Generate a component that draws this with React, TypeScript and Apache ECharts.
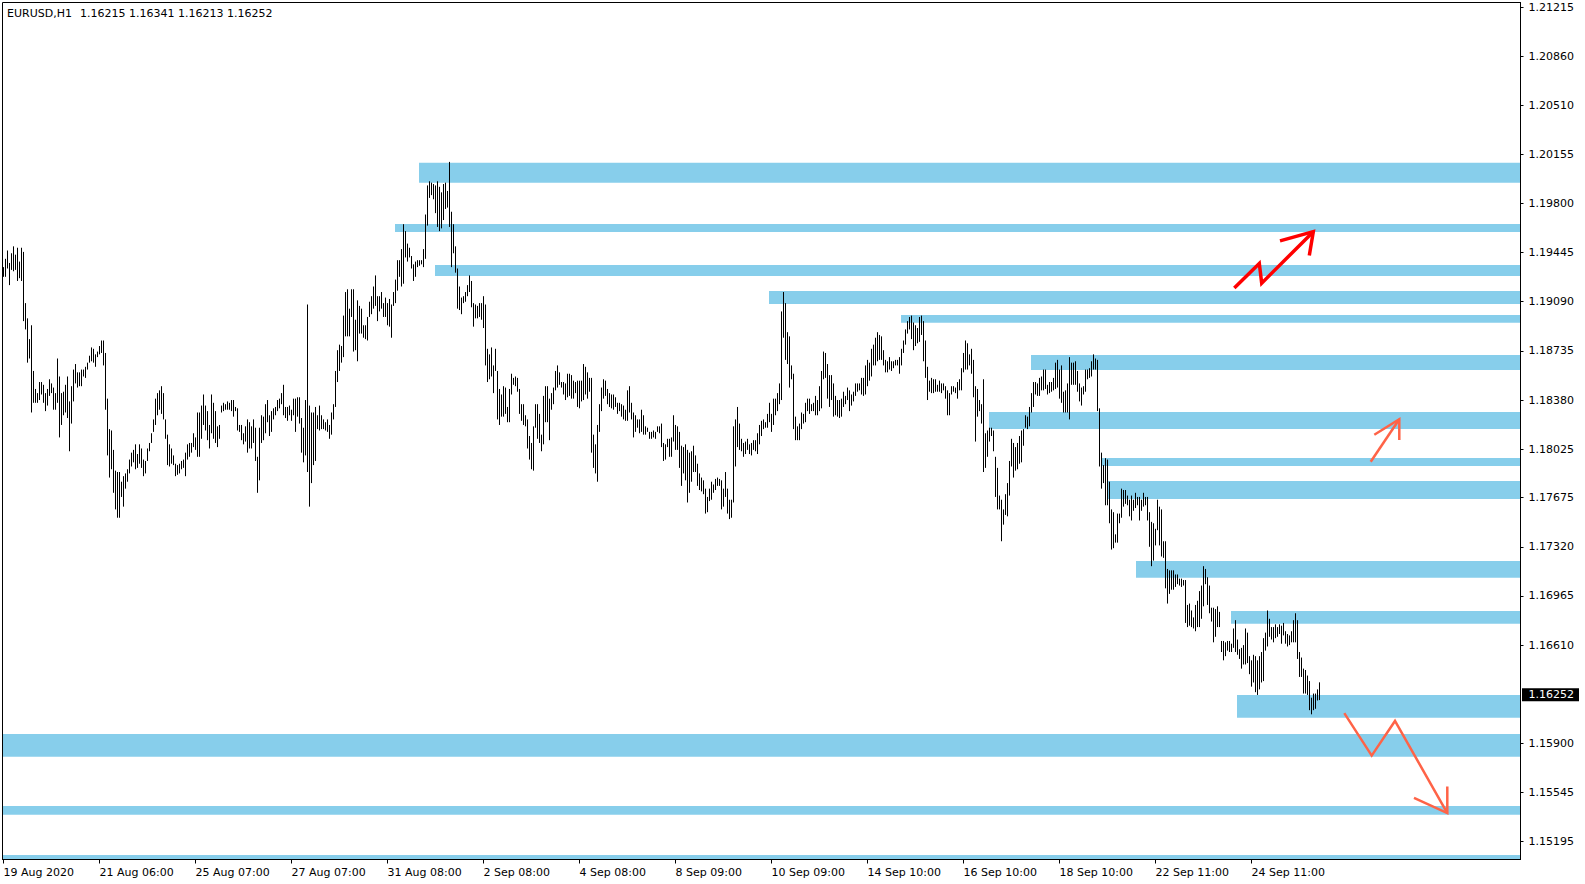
import React, { useEffect, useRef } from 'react';
import * as echarts from 'echarts';

// ---------- data ----------
const symbolName = 'EURUSD,H1';
const lastBarOHLC = [1.16215, 1.16341, 1.16213, 1.16252];

const yTickValues = [1.21215, 1.2086, 1.2051, 1.20155, 1.198, 1.19445, 1.1909, 1.18735, 1.1838, 1.18025, 1.17675, 1.1732, 1.16965, 1.1661, 1.159, 1.15545, 1.15195];
const xTickBars = [0, 48, 96, 144, 192, 240, 288, 336, 384, 432, 480, 528, 576, 624];
const xTickLabels = ['19 Aug 2020', '21 Aug 06:00', '25 Aug 07:00', '27 Aug 07:00', '31 Aug 08:00', '2 Sep 08:00', '4 Sep 08:00', '8 Sep 09:00', '10 Sep 09:00', '14 Sep 10:00', '16 Sep 10:00', '18 Sep 10:00', '22 Sep 11:00', '24 Sep 11:00'];

// hourly bar highs / lows (bar index = position in array)
const barHighs = [
  1.1934, 1.1940, 1.1946, 1.1937, 1.1944, 1.1949, 1.1943, 1.1948, 1.1938, 1.1948,
  1.1945, 1.1908, 1.1897, 1.1882, 1.1892, 1.1859, 1.1846, 1.1843, 1.1851, 1.1851,
  1.1849, 1.1843, 1.1846, 1.1853, 1.1850, 1.1847, 1.1843, 1.1868, 1.1855, 1.1843,
  1.1844, 1.1849, 1.1855, 1.1837, 1.1848, 1.1860, 1.1864, 1.1858, 1.1858, 1.1860,
  1.1860, 1.1862, 1.1865, 1.1870, 1.1876, 1.1875, 1.1871, 1.1873, 1.1877, 1.1881,
  1.1881, 1.1872, 1.1839, 1.1817, 1.1816, 1.1802, 1.1787, 1.1786, 1.1786, 1.1779,
  1.1783, 1.1785, 1.1788, 1.1795, 1.1800, 1.1802, 1.1806, 1.1799, 1.1806, 1.1803,
  1.1795, 1.1794, 1.1803, 1.1807, 1.1814, 1.1824, 1.1839, 1.1843, 1.1845, 1.1848,
  1.1843, 1.1824, 1.1813, 1.1806, 1.1803, 1.1798, 1.1792, 1.1791, 1.1792, 1.1794,
  1.1795, 1.1800, 1.1806, 1.1807, 1.1807, 1.1814, 1.1811, 1.1829, 1.1829, 1.1834,
  1.1842, 1.1834, 1.1830, 1.1820, 1.1842, 1.1836, 1.1830, 1.1819, 1.1820, 1.1834,
  1.1836, 1.1835, 1.1837, 1.1836, 1.1838, 1.1838, 1.1833, 1.1832, 1.1820, 1.1820,
  1.1814, 1.1819, 1.1824, 1.1822, 1.1819, 1.1824, 1.1818, 1.1797, 1.1818, 1.1827,
  1.1826, 1.1835, 1.1838, 1.1827, 1.1830, 1.1832, 1.1833, 1.1838, 1.1839, 1.1843,
  1.1849, 1.1833, 1.1833, 1.1834, 1.1831, 1.1839, 1.1839, 1.1840, 1.1840, 1.1825,
  1.1818, 1.1838, 1.1907, 1.1834, 1.1829, 1.1829, 1.1833, 1.1827, 1.1834, 1.1827,
  1.1824, 1.1822, 1.1824, 1.1820, 1.1829, 1.1835, 1.1859, 1.1874, 1.1878, 1.1877,
  1.1899, 1.1916, 1.1918, 1.1904, 1.1918, 1.1918, 1.1896, 1.1910, 1.1906, 1.1904,
  1.1892, 1.1892, 1.1898, 1.1909, 1.1913, 1.1920, 1.1928, 1.1913, 1.1913, 1.1916,
  1.1908, 1.1912, 1.1908, 1.1911, 1.1907, 1.1916, 1.1925, 1.1939, 1.1939, 1.1947,
  1.1965, 1.1960, 1.1951, 1.1948, 1.1942, 1.1936, 1.1938, 1.1939, 1.1939, 1.1939,
  1.1947, 1.1972, 1.1993, 1.1996, 1.1995, 1.1994, 1.1993, 1.1996, 1.1992, 1.1988,
  1.1994, 1.1995, 1.1989, 1.2010, 1.1974, 1.1965, 1.1949, 1.1933, 1.1920, 1.1912,
  1.1913, 1.1916, 1.1921, 1.1928, 1.1924, 1.1908, 1.1907, 1.1906, 1.1908, 1.1908,
  1.1913, 1.1907, 1.1875, 1.1871, 1.1876, 1.1863, 1.1875, 1.1859, 1.1846, 1.1842,
  1.1848, 1.1847, 1.1833, 1.1846, 1.1857, 1.1854, 1.1855, 1.1854, 1.1846, 1.1835,
  1.1835, 1.1827, 1.1824, 1.1812, 1.1807, 1.1819, 1.1835, 1.1835, 1.1828, 1.1813,
  1.1841, 1.1848, 1.1848, 1.1839, 1.1843, 1.1847, 1.1859, 1.1863, 1.1858, 1.1851,
  1.1851, 1.1850, 1.1857, 1.1857, 1.1856, 1.1852, 1.1851, 1.1852, 1.1852, 1.1852,
  1.1864, 1.1862, 1.1858, 1.1854, 1.1854, 1.1813, 1.1806, 1.1820, 1.1835, 1.1847,
  1.1853, 1.1852, 1.1846, 1.1843, 1.1842, 1.1842, 1.1840, 1.1836, 1.1836, 1.1835,
  1.1834, 1.1831, 1.1845, 1.1848, 1.1836, 1.1829, 1.1827, 1.1824, 1.1824, 1.1831,
  1.1827, 1.1819, 1.1818, 1.1815, 1.1815, 1.1816, 1.1815, 1.1819, 1.1819, 1.1821,
  1.1807, 1.1806, 1.1810, 1.1810, 1.1811, 1.1827, 1.1820, 1.1819, 1.1815, 1.1805,
  1.1804, 1.1806, 1.1802, 1.1800, 1.1801, 1.1805, 1.1798, 1.1792, 1.1785, 1.1782,
  1.1780, 1.1774, 1.1768, 1.1774, 1.1779, 1.1777, 1.1781, 1.1782, 1.1781, 1.1780,
  1.1774, 1.1786, 1.1774, 1.1766, 1.1766, 1.1819, 1.1824, 1.1833, 1.1821, 1.1810,
  1.1807, 1.1808, 1.1810, 1.1806, 1.1807, 1.1809, 1.1809, 1.1814, 1.1820, 1.1823,
  1.1824, 1.1822, 1.1828, 1.1836, 1.1828, 1.1839, 1.1839, 1.1843, 1.1850, 1.1902,
  1.1916, 1.1908, 1.1887, 1.1884, 1.1863, 1.1857, 1.1826, 1.1819, 1.1821, 1.1829,
  1.1828, 1.1836, 1.1839, 1.1839, 1.1835, 1.1836, 1.1841, 1.1838, 1.1848, 1.1859,
  1.1873, 1.1872, 1.1864, 1.1856, 1.1856, 1.1850, 1.1841, 1.1838, 1.1838, 1.1839,
  1.1844, 1.1841, 1.1847, 1.1845, 1.1842, 1.1844, 1.1850, 1.1850, 1.1850,
  1.1854, 1.1854, 1.1863, 1.1867, 1.1865, 1.1875, 1.1878, 1.1883, 1.1887, 1.1885,
  1.1884, 1.1874, 1.1867, 1.1866, 1.1869, 1.1866, 1.1866, 1.1867, 1.1867, 1.1869,
  1.1875, 1.1881, 1.1889, 1.1895, 1.1898, 1.1899, 1.1894, 1.1892, 1.1890, 1.1898,
  1.1899, 1.1895, 1.1881, 1.1862, 1.1852, 1.1854, 1.1853, 1.1853, 1.1849, 1.1852,
  1.1850, 1.1850, 1.1848, 1.1845, 1.1843, 1.1848, 1.1848, 1.1847, 1.1851, 1.1853,
  1.1861, 1.1872, 1.1881, 1.1879, 1.1871, 1.1875, 1.1867, 1.1848, 1.1846, 1.1838,
  1.1835, 1.1853, 1.1814, 1.1816, 1.1818, 1.1818, 1.1816, 1.1797, 1.1789, 1.1769,
  1.1766, 1.1759, 1.1770, 1.1778, 1.1794,
  1.1810, 1.1807, 1.1804, 1.1807, 1.1812, 1.1816, 1.1817, 1.1827, 1.1826, 1.1833,
  1.1843, 1.1851, 1.1851, 1.1850, 1.1854, 1.1855, 1.1860, 1.1860, 1.1849, 1.1851,
  1.1851, 1.1854, 1.1865, 1.1867, 1.1860, 1.1863, 1.1844, 1.1845, 1.1850, 1.1869,
  1.1865, 1.1865, 1.1866, 1.1859, 1.1850, 1.1847, 1.1848, 1.1860, 1.1860, 1.1861,
  1.1866, 1.1871, 1.1868, 1.1867, 1.1832, 1.1800, 1.1791, 1.1796, 1.1795, 1.1779,
  1.1759, 1.1757, 1.1741, 1.1756, 1.1756, 1.1774, 1.1773, 1.1773, 1.1769, 1.1766,
  1.1769, 1.1766, 1.1771, 1.1768, 1.1768,
  1.1766, 1.1771, 1.1768, 1.1768, 1.1757, 1.1750, 1.1749, 1.1745, 1.1766, 1.1761,
  1.1759, 1.1736, 1.1736, 1.1716, 1.1715, 1.1715, 1.1715, 1.1712, 1.1712, 1.1709,
  1.1709, 1.1708, 1.1708, 1.1690, 1.1691, 1.1686, 1.1681, 1.1690, 1.1693, 1.1700,
  1.1704, 1.1718, 1.1716, 1.1710, 1.1704, 1.1688, 1.1688, 1.1687, 1.1689, 1.1685,
  1.1664, 1.1664, 1.1663, 1.1664, 1.1664, 1.1662, 1.1673, 1.1679, 1.1665, 1.1658,
  1.1659, 1.1661, 1.1673, 1.1670, 1.1653, 1.1650, 1.1654, 1.1653, 1.1650, 1.1653,
  1.1656, 1.1666, 1.1670, 1.1686, 1.1680, 1.1674, 1.1674, 1.1676, 1.1674, 1.1676,
  1.1675, 1.1677, 1.1671, 1.1669, 1.1668, 1.1671, 1.1679, 1.1684, 1.1679, 1.1656,
  1.1652, 1.1644, 1.1643, 1.1639, 1.1635, 1.1623, 1.1626, 1.1626, 1.1629, 1.16341,
];

const barLows = [
  1.1927, 1.1927, 1.1933, 1.1921, 1.1932, 1.1931, 1.1932, 1.1924, 1.1926, 1.1924,
  1.1895, 1.1889, 1.1865, 1.1868, 1.1829, 1.1836, 1.1836, 1.1836, 1.1838, 1.1842,
  1.1836, 1.1830, 1.1834, 1.1841, 1.1843, 1.1831, 1.1831, 1.1836, 1.1811, 1.1820,
  1.1827, 1.1829, 1.1825, 1.1801, 1.1821, 1.1837, 1.1850, 1.1847, 1.1848, 1.1848,
  1.1855, 1.1854, 1.1860, 1.1865, 1.1866, 1.1865, 1.1862, 1.1869, 1.1871, 1.1872,
  1.1863, 1.1831, 1.1798, 1.1782, 1.1788, 1.1771, 1.1759, 1.1753, 1.1753, 1.1768,
  1.1761, 1.1774, 1.1779, 1.1785, 1.1790, 1.1793, 1.1788, 1.1789, 1.1792, 1.1789,
  1.1783, 1.1785, 1.1794, 1.1801, 1.1807, 1.1815, 1.1820, 1.1827, 1.1831, 1.1828,
  1.1824, 1.1810, 1.1791, 1.1790, 1.1792, 1.1791, 1.1783, 1.1784, 1.1785, 1.1788,
  1.1789, 1.1783, 1.1795, 1.1797, 1.1800, 1.1804, 1.1802, 1.1797, 1.1797, 1.1810,
  1.1820, 1.1816, 1.1809, 1.1803, 1.1814, 1.1810, 1.1807, 1.1804, 1.1810, 1.1829,
  1.1830, 1.1831, 1.1831, 1.1831, 1.1830, 1.1826, 1.1830, 1.1816, 1.1815, 1.1809,
  1.1806, 1.1808, 1.1800, 1.1803, 1.1803, 1.1807, 1.1794, 1.1771, 1.1780, 1.1807,
  1.1809, 1.1814, 1.1822, 1.1812, 1.1815, 1.1824, 1.1827, 1.1830, 1.1832, 1.1835,
  1.1827, 1.1825, 1.1823, 1.1827, 1.1823, 1.1827, 1.1815, 1.1826, 1.1821, 1.1800,
  1.1793, 1.1798, 1.1786, 1.1761, 1.1778, 1.1791, 1.1794, 1.1817, 1.1816, 1.1817,
  1.1817, 1.1816, 1.1815, 1.1810, 1.1813, 1.1824, 1.1833, 1.1851, 1.1859, 1.1865,
  1.1869, 1.1884, 1.1884, 1.1884, 1.1898, 1.1873, 1.1874, 1.1866, 1.1886, 1.1886,
  1.1883, 1.1882, 1.1881, 1.1898, 1.1900, 1.1904, 1.1906, 1.1895, 1.1902, 1.1904,
  1.1898, 1.1898, 1.1892, 1.1891, 1.1883, 1.1906, 1.1908, 1.1917, 1.1927, 1.1920,
  1.1922, 1.1941, 1.1938, 1.1941, 1.1933, 1.1924, 1.1927, 1.1934, 1.1935, 1.1936,
  1.1934, 1.1940, 1.1964, 1.1984, 1.1986, 1.1983, 1.1973, 1.1963, 1.1960, 1.1962,
  1.1968, 1.1976, 1.1977, 1.1963, 1.1934, 1.1944, 1.1930, 1.1904, 1.1903, 1.1900,
  1.1908, 1.1909, 1.1913, 1.1916, 1.1905, 1.1891, 1.1897, 1.1897, 1.1898, 1.1896,
  1.1890, 1.1863, 1.1851, 1.1853, 1.1855, 1.1843, 1.1859, 1.1824, 1.1820, 1.1826,
  1.1826, 1.1828, 1.1822, 1.1822, 1.1842, 1.1849, 1.1848, 1.1844, 1.1828, 1.1823,
  1.1820, 1.1819, 1.1803, 1.1795, 1.1788, 1.1787, 1.1818, 1.1810, 1.1807, 1.1801,
  1.1806, 1.1822, 1.1822, 1.1809, 1.1831, 1.1835, 1.1845, 1.1847, 1.1849, 1.1847,
  1.1842, 1.1838, 1.1840, 1.1841, 1.1839, 1.1839, 1.1843, 1.1833, 1.1832, 1.1837,
  1.1838, 1.1842, 1.1839, 1.1844, 1.1800, 1.1789, 1.1785, 1.1779, 1.1815, 1.1830,
  1.1839, 1.1841, 1.1835, 1.1833, 1.1832, 1.1831, 1.1833, 1.1828, 1.1830, 1.1826,
  1.1824, 1.1823, 1.1823, 1.1829, 1.1824, 1.1811, 1.1815, 1.1818, 1.1814, 1.1815,
  1.1813, 1.1813, 1.1815, 1.1810, 1.1810, 1.1811, 1.1810, 1.1815, 1.1814, 1.1804,
  1.1794, 1.1795, 1.1804, 1.1797, 1.1797, 1.1808, 1.1802, 1.1802, 1.1789, 1.1776,
  1.1785, 1.1780, 1.1764, 1.1771, 1.1779, 1.1786, 1.1786, 1.1776, 1.1773, 1.1772,
  1.1770, 1.1756, 1.1757, 1.1765, 1.1766, 1.1771, 1.1773, 1.1776, 1.1776, 1.1759,
  1.1761, 1.1768, 1.1756, 1.1752, 1.1753, 1.1764, 1.1790, 1.1804, 1.1802, 1.1801,
  1.1797, 1.1799, 1.1802, 1.1799, 1.1798, 1.1802, 1.1801, 1.1799, 1.1806, 1.1812,
  1.1817, 1.1818, 1.1818, 1.1822, 1.1815, 1.1820, 1.1827, 1.1830, 1.1835, 1.1838,
  1.1883, 1.1867, 1.1864, 1.1847, 1.1853, 1.1817, 1.1809, 1.1809, 1.1809, 1.1817,
  1.1821, 1.1822, 1.1830, 1.1828, 1.1830, 1.1830, 1.1827, 1.1827, 1.1830, 1.1832,
  1.1853, 1.1854, 1.1839, 1.1833, 1.1838, 1.1826, 1.1827, 1.1826, 1.1825, 1.1826,
  1.1833, 1.1835, 1.1838, 1.1830, 1.1834, 1.1837, 1.1841, 1.1844, 1.1845,
  1.1842, 1.1841, 1.1842, 1.1848, 1.1852, 1.1855, 1.1863, 1.1863, 1.1866, 1.1867,
  1.1867, 1.1863, 1.1858, 1.1858, 1.1860, 1.1859, 1.1861, 1.1863, 1.1863, 1.1857,
  1.1863, 1.1872, 1.1878, 1.1886, 1.1889, 1.1882, 1.1874, 1.1877, 1.1879, 1.1880,
  1.1885, 1.1866, 1.1854, 1.1838, 1.1844, 1.1843, 1.1843, 1.1844, 1.1844, 1.1844,
  1.1843, 1.1845, 1.1839, 1.1827, 1.1827, 1.1842, 1.1844, 1.1843, 1.1839, 1.1845,
  1.1845, 1.1858, 1.1860, 1.1860, 1.1863, 1.1857, 1.1840, 1.1808, 1.1826, 1.1830,
  1.1821, 1.1786, 1.1789, 1.1797, 1.1808, 1.1812, 1.1801, 1.1768, 1.1759, 1.1759,
  1.1736, 1.1748, 1.1755, 1.1754, 1.1769,
  1.1790, 1.1782, 1.1787, 1.1788, 1.1792, 1.1793, 1.1805, 1.1818, 1.1817, 1.1819,
  1.1829, 1.1833, 1.1842, 1.1841, 1.1841, 1.1845, 1.1845, 1.1846, 1.1842, 1.1843,
  1.1844, 1.1845, 1.1846, 1.1847, 1.1839, 1.1836, 1.1829, 1.1829, 1.1829, 1.1824,
  1.1849, 1.1849, 1.1849, 1.1844, 1.1837, 1.1834, 1.1842, 1.1844, 1.1853, 1.1854,
  1.1855, 1.1860, 1.1860, 1.1830, 1.1790, 1.1774, 1.1778, 1.1762, 1.1762, 1.1749,
  1.1730, 1.1731, 1.1735, 1.1735, 1.1749, 1.1753, 1.1761, 1.1763, 1.1762, 1.1754,
  1.1751, 1.1758, 1.1760, 1.1762, 1.1751,
  1.1758, 1.1761, 1.1762, 1.1751, 1.1732, 1.1718, 1.1722, 1.1733, 1.1744, 1.1733,
  1.1725, 1.1724, 1.1702, 1.1691, 1.1698, 1.1701, 1.1701, 1.1703, 1.1705, 1.1704,
  1.1703, 1.1704, 1.1677, 1.1674, 1.1675, 1.1674, 1.1673, 1.1671, 1.1674, 1.1674,
  1.1680, 1.1689, 1.1705, 1.1690, 1.1684, 1.1678, 1.1663, 1.1667, 1.1674, 1.1674,
  1.1656, 1.1650, 1.1653, 1.1657, 1.1656, 1.1656, 1.1659, 1.1656, 1.1654, 1.1651,
  1.1644, 1.1647, 1.1647, 1.1648, 1.1640, 1.1631, 1.1634, 1.1627, 1.1625, 1.1629,
  1.1634, 1.1635, 1.1657, 1.1660, 1.1667, 1.1665, 1.1663, 1.1666, 1.1667, 1.1669,
  1.1662, 1.1668, 1.1662, 1.1660, 1.1661, 1.1663, 1.1663, 1.1663, 1.1651, 1.1638,
  1.1638, 1.1626, 1.1626, 1.1625, 1.1614, 1.1611, 1.1614, 1.1615, 1.1621, 1.16213,
];

// support / resistance zones: starting bar, upper price, lower price
const zoneStarts = [207.75, 195.75, 215.75, 382.75, 448.75, 513.75, 492.75, 548.75, 551.75, 566.25, 613.75, 616.75, -0.5, -0.5, -0.5];
const zoneTops = [1.20094, 1.19652, 1.19355, 1.19168, 1.18994, 1.18705, 1.18294, 1.17961, 1.17795, 1.17217, 1.16856, 1.1625, 1.15968, 1.15448, 1.15094];
const zoneBottoms = [1.1995, 1.19594, 1.19276, 1.19074, 1.18939, 1.18597, 1.18171, 1.17904, 1.17665, 1.17097, 1.16765, 1.16086, 1.15804, 1.15385, 1.15065];

// hand-drawn arrows: [bar, price] points
const arrowUpRedPath = [[615.4, 1.19189], [627.9, 1.19367], [629.1, 1.19224], [654.9, 1.19596]];
const arrowUpRedHead = [[638.25, 1.1953], [654.9, 1.19596], [652.9, 1.19424]];
const arrowUpSmallPath = [[683.6, 1.17934], [697.9, 1.18241]];
const arrowUpSmallHead = [[685.4, 1.18129], [697.9, 1.18241], [697.9, 1.18092]];
const arrowDownPath = [[670.4, 1.16119], [684.1, 1.15812], [695.75, 1.16062], [721.9, 1.15397]];
const arrowDownHead = [[705.25, 1.15506], [721.9, 1.15397], [721.9, 1.15589]];

// ---------- layout / style ----------
const W = 1585;
const H = 884;
const X_MIN = -0.5;
const X_MAX = 758.5;
const Y_MIN = 1.150614;
const Y_MAX = 1.212513;
const FONT = '"DejaVu Sans", Verdana, sans-serif';
const ZONE_COLOR = '#87CEEB';
const RED = '#FF0000';
const TOMATO = '#FF6347';

export default function App() {
  const ref = useRef<HTMLDivElement>(null);

  useEffect(() => {
    if (!ref.current) return;
    const chart = echarts.init(ref.current, undefined, { renderer: 'svg' });

    const n = Math.min(barHighs.length, barLows.length);
    const barData: number[][] = [];
    for (let i = 0; i < n; i++) barData.push([i, barLows[i], barHighs[i]]);
    const zoneData = zoneStarts.map((s, i) => [s, zoneTops[i], zoneBottoms[i]]);

    const option: any = {
      animation: false,
      backgroundColor: '#ffffff',
      grid: {
        left: 2.5,
        top: 2.5,
        right: 64.5,
        bottom: 24.5,
        show: true,
        borderColor: '#000',
        borderWidth: 1,
        containLabel: false,
        outerBoundsMode: 'none',
      },
      xAxis: {
        type: 'value',
        min: X_MIN,
        max: X_MAX,
        axisLine: { show: true, onZero: false, lineStyle: { color: '#000', width: 1 } },
        axisTick: { show: true, customValues: xTickBars, length: 4, lineStyle: { color: '#000' } },
        axisLabel: {
          customValues: xTickBars,
          formatter: (v: number) => {
            const idx = xTickBars.indexOf(Math.round(v));
            return idx >= 0 ? xTickLabels[idx] : '';
          },
          align: 'left',
          margin: 7,
          color: '#000',
          fontFamily: FONT,
          fontSize: 11,
        },
        splitLine: { show: false },
      },
      yAxis: {
        type: 'value',
        position: 'right',
        min: Y_MIN,
        max: Y_MAX,
        axisLine: { show: true, onZero: false, lineStyle: { color: '#000', width: 1 } },
        axisTick: { show: true, customValues: yTickValues, length: 3, lineStyle: { color: '#000' } },
        axisLabel: {
          customValues: yTickValues,
          formatter: (v: number) => v.toFixed(5),
          margin: 8,
          color: '#000',
          fontFamily: FONT,
          fontSize: 11,
        },
        splitLine: { show: false },
      },
      series: [
        {
          type: 'custom',
          name: 'zones',
          z: 1,
          clip: true,
          silent: true,
          encode: { x: 0, y: [1, 2] },
          data: zoneData,
          renderItem: (params: any, api: any) => {
            const cs = params.coordSys;
            const a = api.coord([api.value(0), api.value(1)]);
            const b = api.coord([api.value(0), api.value(2)]);
            const x0 = Math.max(a[0], cs.x + 0.5);
            const x1 = cs.x + cs.width - 0.5;
            return {
              type: 'rect',
              shape: { x: x0, y: a[1], width: x1 - x0, height: b[1] - a[1] },
              style: { fill: ZONE_COLOR },
            };
          },
        },
        {
          type: 'custom',
          name: 'EURUSD',
          z: 3,
          silent: true,
          encode: { x: 0, y: [1, 2] },
          data: barData,
          renderItem: (params: any, api: any) => {
            const k = api.value(0);
            const lo = api.coord([k, api.value(1)]);
            const hi = api.coord([k, api.value(2)]);
            const x = Math.floor(lo[0]) + 0.5;
            let y1 = hi[1];
            let y2 = lo[1];
            if (y2 - y1 < 1) y2 = y1 + 1;
            return {
              type: 'line',
              shape: { x1: x, y1, x2: x, y2 },
              style: { stroke: '#000', lineWidth: 1 },
            };
          },
        },
      ],
    };

    chart.setOption(option);

    const px = (p: number[]) => chart.convertToPixel({ gridIndex: 0 } as any, p) as number[];
    const poly = (id: string, pts: number[][], color: string, width: number) => ({
      id,
      type: 'polyline',
      z: 100,
      silent: true,
      shape: { points: pts.map(px) },
      style: { stroke: color, lineWidth: width, fill: 'none', lineJoin: 'miter' },
    });
    const priceY = px([0, lastBarOHLC[3]])[1];
    const gridRight = W - 64.5;

    chart.setOption({
      graphic: [
        {
          id: 'title1',
          type: 'text',
          x: 7,
          y: 13,
          z: 100,
          style: { text: symbolName, fill: '#000', font: `11px ${FONT}`, verticalAlign: 'middle' },
        },
        {
          id: 'title2',
          type: 'text',
          x: 80,
          y: 13,
          z: 100,
          style: {
            text: lastBarOHLC.map((v) => v.toFixed(5)).join(' '),
            fill: '#000',
            font: `11px ${FONT}`,
            verticalAlign: 'middle',
          },
        },
        poly('a1', arrowUpRedPath, RED, 3.5),
        poly('a1h', arrowUpRedHead, RED, 3.5),
        poly('a2', arrowUpSmallPath, TOMATO, 2.5),
        poly('a2h', arrowUpSmallHead, TOMATO, 2.5),
        poly('a3', arrowDownPath, TOMATO, 2.5),
        poly('a3h', arrowDownHead, TOMATO, 2.5),
        {
          id: 'pricebox',
          type: 'rect',
          z: 100,
          shape: { x: gridRight + 1.5, y: priceY - 6.5, width: 57, height: 13 },
          style: { fill: '#000' },
        },
        {
          id: 'pricetext',
          type: 'text',
          z: 101,
          x: gridRight + 8,
          y: priceY,
          style: {
            text: lastBarOHLC[3].toFixed(5),
            fill: '#fff',
            font: `11px ${FONT}`,
            verticalAlign: 'middle',
          },
        },
      ],
    });

    return () => {
      chart.dispose();
    };
  }, []);

  return (
    <div
      ref={ref}
      style={{ position: 'fixed', left: 0, top: 0, width: W, height: H, background: '#fff' }}
    />
  );
}
